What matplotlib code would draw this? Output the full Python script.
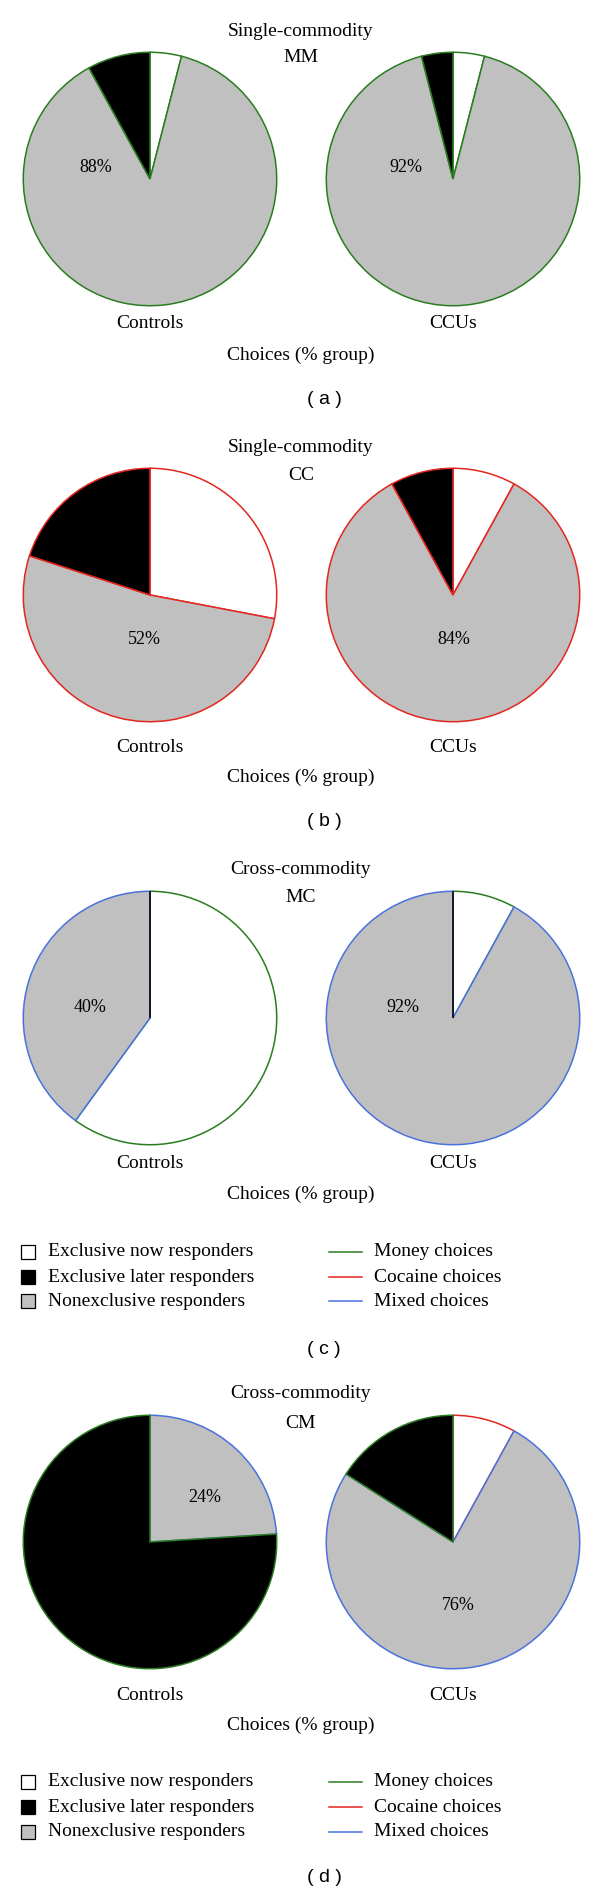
import matplotlib
matplotlib.use("Agg")
import matplotlib.pyplot as plt
from matplotlib.patches import Rectangle

# Data (percent of group), wedge order: now, nonexclusive, later
panel_ids = ["a", "b", "c", "d"]
commodity = ["Single-commodity", "Single-commodity", "Cross-commodity", "Cross-commodity"]
condition = ["MM", "CC", "MC", "CM"]
groups = ["Controls", "CCUs"]
now_pct = [[4, 4], [28, 8], [60, 8], [0, 8]]
nonexcl_pct = [[88, 92], [52, 84], [40, 92], [24, 76]]
later_pct = [[8, 4], [20, 8], [0, 0], [76, 16]]

legend_fill = ["Exclusive now responders", "Exclusive later responders", "Nonexclusive responders"]
legend_line = ["Money choices", "Cocaine choices", "Mixed choices"]

# colours
c_now, c_later, c_nonex = "white", "black", "#c0c0c0"
money, cocaine, mixed = "#2a7d1f", "#e3261f", "#4a72dc"

# edge colours per wedge (now, nonexcl, later)
edges = [
    [[money] * 3, [money] * 3],
    [[cocaine] * 3, [cocaine] * 3],
    [[money, mixed, "black"], [money, mixed, "black"]],
    [[money, mixed, money], [cocaine, mixed, money]],
]

# layout in pixels (y from top)
W, H = 600, 1895
R = 128
pie_x = [150, 453]
pie_y = [179, 595, 1018, 1542]
title_y = [32, 447, 870, 1393]
sub_y = [57, 475, 897, 1423]
group_y = [323, 747, 1163, 1695]
choices_y = [355, 777, 1194, 1725]
panel_y = [399, 822, 1350, 1878]
pct_off = [[(-54, -11), (-47, -11)], [(-6, 44), (1, 44)],
           [(-60, -10), (-50, -10)], [(55, -45), (5, 63)]]
legend_rows = {2: [1252, 1277, 1301], 3: [1782, 1807, 1832]}

serif = "Liberation Serif"
fs = 14

fig = plt.figure(figsize=(W / 100, H / 100), dpi=100)
# overlay in pixel coords for all the text, drawn above the pies
lay = fig.add_axes([0, 0, 1, 1])
lay.set_xlim(0, W)
lay.set_ylim(H, 0)
lay.axis("off")
lay.set_zorder(10)

for p in range(4):
    lay.text(301, title_y[p], commodity[p], ha="center", va="center", fontsize=fs, family=serif)
    lay.text(301, sub_y[p], condition[p], ha="center", va="center", fontsize=fs, family=serif)
    for g in range(2):
        cx, cy = pie_x[g], pie_y[p]
        ax = fig.add_axes([(cx - R) / W, 1 - (cy + R) / H, 2 * R / W, 2 * R / H])
        vals = [now_pct[p][g], nonexcl_pct[p][g], later_pct[p][g]]
        wedges, _ = ax.pie(vals, colors=[c_now, c_nonex, c_later], startangle=90,
                           counterclock=False, radius=1,
                           wedgeprops=dict(linewidth=1.1))
        for w, ec in zip(wedges, edges[p][g]):
            w.set_edgecolor(ec)
        ax.set_xlim(-1.01, 1.01)
        ax.set_ylim(-1.01, 1.01)
        ax.set_aspect("equal")
        ax.axis("off")
        dx, dy = pct_off[p][g]
        lay.text(cx + dx, cy + dy, f"{nonexcl_pct[p][g]}%", ha="center", va="center",
                 fontsize=13, family=serif)
        lay.text(cx, group_y[p], groups[g], ha="center", va="center", fontsize=fs, family=serif)
    lay.text(301, choices_y[p], "Choices (% group)", ha="center", va="center", fontsize=fs, family=serif)
    lay.text(324, panel_y[p], "( %s )" % panel_ids[p], ha="center", va="center", fontsize=14,
             family="Liberation Sans")

# legends under panels c and d
for p, rows in legend_rows.items():
    for i, y in enumerate(rows):
        fc = [c_now, c_later, c_nonex][i]
        lay.add_patch(Rectangle((21, y - 7), 14, 14, facecolor=fc, edgecolor="black", linewidth=0.9))
        lay.text(48, y, legend_fill[i], ha="left", va="center", fontsize=fs, family=serif)
        lay.plot([329, 362], [y, y], color=[money, cocaine, mixed][i], linewidth=1.1)
        lay.text(374, y, legend_line[i], ha="left", va="center", fontsize=fs, family=serif)

fig.savefig("out.png", dpi=100)
